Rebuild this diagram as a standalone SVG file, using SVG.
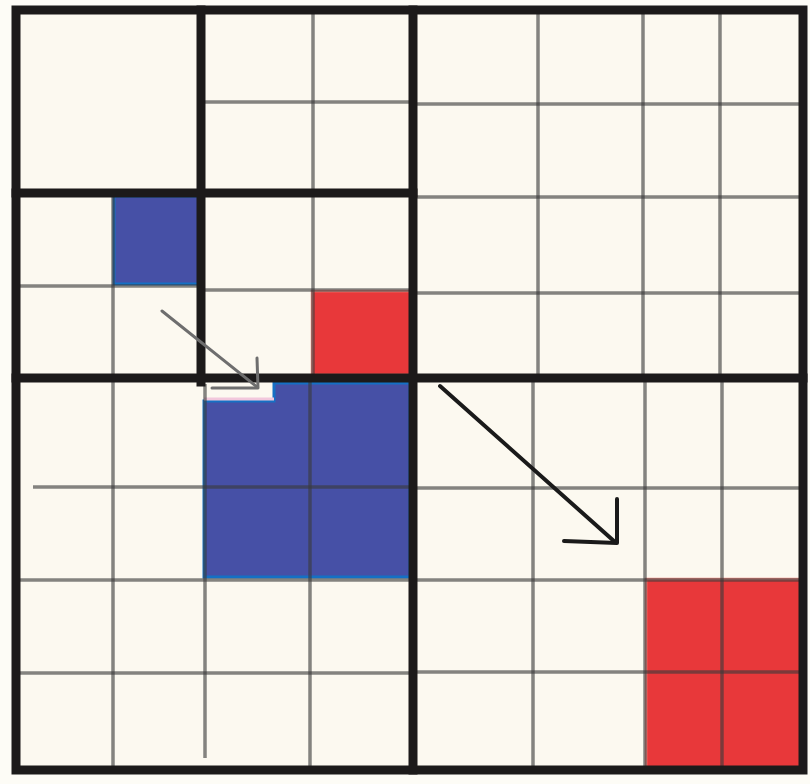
<svg xmlns="http://www.w3.org/2000/svg" width="810" height="784" viewBox="0 0 810 784">
<defs>
<style>
.thin{stroke:#3a3a3a;stroke-opacity:0.62;stroke-width:3.5;fill:none;stroke-linecap:butt}
.thick{stroke:#1c1a1a;stroke-width:9;fill:none;stroke-linecap:square}
.blue{fill:#4650a6;stroke:#1570c4;stroke-width:3}
.red{fill:#e8383a;stroke:#f08a80;stroke-width:2.5}
.arrow{fill:none;stroke-linecap:round;stroke-linejoin:round}
</style>
</defs>
<rect x="0" y="0" width="810" height="784" fill="#fdfcf6"/>
<rect x="16" y="10" width="787" height="760" fill="#fcf9f0"/>

<g id="cells">
  <rect id="blue-small" class="blue" x="114" y="196" width="85" height="88"/>
  <rect id="red-small" class="red" x="312" y="291" width="99" height="84"/>
  <g id="blue-large">
    <polygon class="blue" points="274,383 410,383 410,577 204,577 204,401 274,401"/>
    <line x1="204" y1="399" x2="274" y2="399" stroke="#f2c8dc" stroke-width="3"/>
  </g>
  <rect id="red-large" class="red" x="646" y="579" width="157" height="191"/>
</g>

<g id="grid-thin">
  <!-- top-left quadrant -->
  <line class="thin" x1="313" y1="10" x2="313" y2="378"/>
  <line class="thin" x1="201" y1="102" x2="413" y2="102"/>
  <line class="thin" x1="113" y1="193" x2="113" y2="770"/>
  <line class="thin" x1="16" y1="286" x2="201" y2="286"/>
  <line class="thin" x1="201" y1="290" x2="413" y2="290"/>
  <!-- top-right quadrant -->
  <line class="thin" x1="538" y1="10" x2="538" y2="378"/>
  <line class="thin" x1="643" y1="10" x2="643" y2="378"/>
  <line class="thin" x1="720" y1="10" x2="720" y2="378"/>
  <line class="thin" x1="413" y1="104" x2="803" y2="104"/>
  <line class="thin" x1="413" y1="197" x2="803" y2="197"/>
  <line class="thin" x1="413" y1="293" x2="803" y2="293"/>
  <!-- bottom-left quadrant -->
  <line class="thin" x1="205" y1="384" x2="205" y2="758"/>
  <line class="thin" x1="310" y1="378" x2="310" y2="770"/>
  <line class="thin" x1="33" y1="487" x2="413" y2="487"/>
  <line class="thin" x1="16" y1="580" x2="413" y2="580"/>
  <line class="thin" x1="16" y1="673" x2="413" y2="673"/>
  <!-- bottom-right quadrant -->
  <line class="thin" x1="533" y1="378" x2="533" y2="770"/>
  <line class="thin" x1="645" y1="378" x2="645" y2="770"/>
  <line class="thin" x1="722" y1="378" x2="722" y2="770"/>
  <line class="thin" x1="413" y1="488" x2="803" y2="488"/>
  <line class="thin" x1="413" y1="580" x2="803" y2="580"/>
  <line class="thin" x1="413" y1="672" x2="803" y2="672"/>
</g>

<g id="grid-thick">
  <rect class="thick" x="16" y="10" width="787" height="760"/>
  <line class="thick" x1="201" y1="10" x2="201" y2="382"/>
  <line class="thick" x1="413" y1="10" x2="413" y2="770"/>
  <line class="thick" x1="16" y1="193" x2="413" y2="193"/>
  <line class="thick" x1="16" y1="378" x2="803" y2="378"/>
</g>

<g id="connectors">
  <g id="arrow-small" class="arrow" stroke="#6e6e6e" stroke-width="3">
    <line x1="162" y1="311" x2="257" y2="387"/>
    <polyline points="257,358 258,388 212,388"/>
  </g>
  <g id="arrow-large" class="arrow" stroke="#1a1a1a" stroke-width="4">
    <line x1="440" y1="386" x2="615" y2="542"/>
    <polyline points="617,499 617,543 564,541"/>
  </g>
</g>
</svg>
